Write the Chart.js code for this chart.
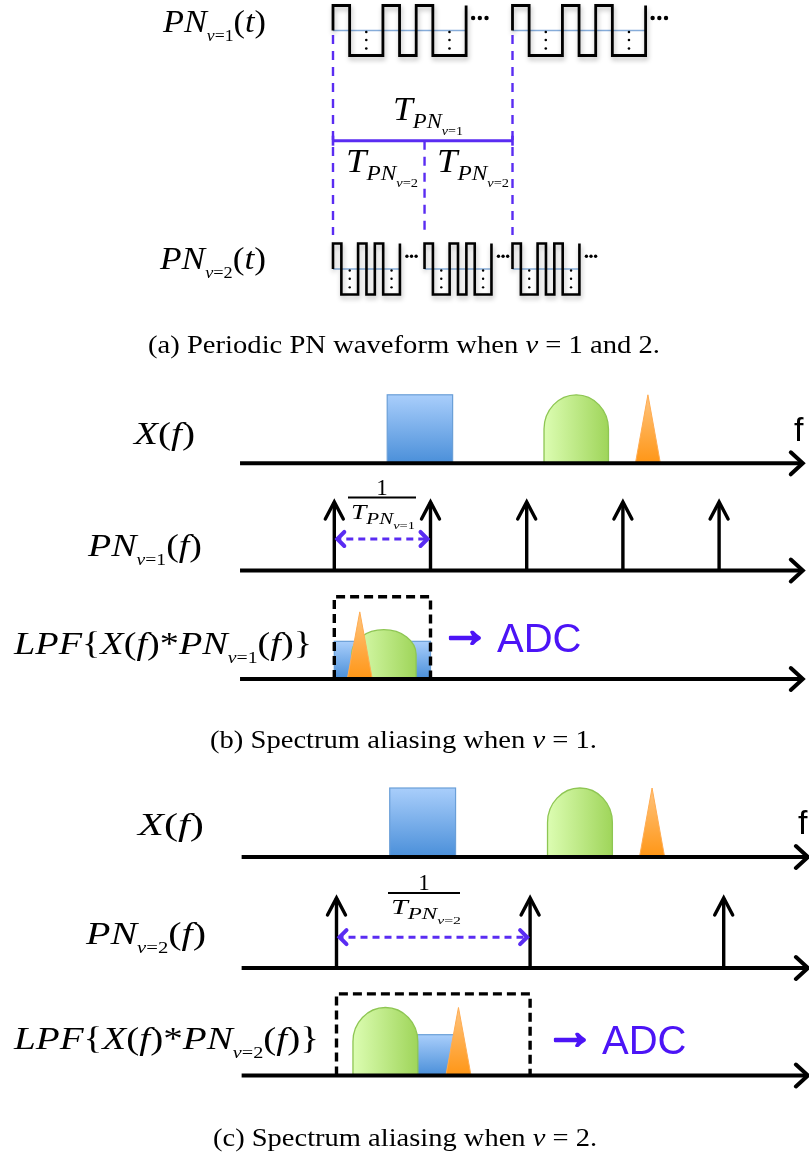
<!DOCTYPE html>
<html>
<head>
<meta charset="utf-8">
<script src="https://cdn.jsdelivr.net/npm/chart.js@4.4.1/dist/chart.umd.min.js"></script>
<style>
  html, body { margin: 0; padding: 0; background: #ffffff; }
  canvas { display: block; }
</style>
</head>
<body>
<canvas id="fig" width="809" height="1157"></canvas>
<script>
// ---------------- values ----------------
// chip pattern drawn for one PN period (+1 high, -1 low)
const pnChips = [1, -1, -1, 1, -1, 1, -1, -1];
// start of each drawn period, in units of T_PN,v=1
const periodStartsV1 = [0, 1];
const periodStartsV2 = [0, 0.51, 1];
// chip length, in units of T_PN,v=1
const chipLenV1 = 0.0927;
const chipLenV2 = 0.0466;
// period boundaries marked by dashed guides
const periodMarksV1 = [0, 1];
const periodMarksV2 = [0.51];

// input spectrum X(f): [start, end, height], frequency in units of 1/T_PN,v=1
const bandFlat = [0.55, 1.23, 1];
const bandRound = [2.18, 2.85, 1];
const bandTone = [3.13, 3.39, 1];
// PN spectral lines
const pnLinesV1 = [0, 1, 2, 3, 4];
const pnLinesV2 = [0, 2, 4];
// low-pass output for v = 1
const lpfPassV1 = [0, 1, 1.2];
const lpfFlatV1 = [0, 1, 0.55];
const lpfRoundV1 = [0.18, 0.85, 0.72];
const lpfToneV1 = [0.135, 0.395, 0.98];
// low-pass output for v = 2
const lpfPassV2 = [0, 2, 1.2];
const lpfFlatV2 = [0.55, 1.22, 0.6];
const lpfRoundV2 = [0.17, 0.84, 1];
const lpfToneV2 = [1.13, 1.39, 1];
// frequency extent of the drawn axes
const freqAxisSpan = [-0.98, 4.87];

// ---------------- layout ----------------
const W = 809, H = 1157;
const layout = {
  time:  { origin: 333, unit: 179.5 },
  freqB: { origin: 334.3, unit: 96.2 },
  freqC: { origin: 336.5, unit: 96.8 },
  rows: {
    yWave1: { base: 30.5, unit: 25 },
    yWave2: { base: 269, unit: 25.5 },
    yB1: { base: 463.3, unit: 68.5 },
    yB2: { base: 570.5, unit: 68.5 },
    yB3: { base: 679, unit: 68.5 },
    yC1: { base: 857, unit: 69 },
    yC2: { base: 968, unit: 70 },
    yC3: { base: 1075.5, unit: 68 }
  },
  guideTop: 35, guideBottom: 235, bracketY: 140.7,
  spanArrowB: 0.46, spanArrowC: 0.44
};

const BLACK = '#000000';
const VIOLET = '#5a2cf2';
const ADC_COLOR = '#4c14f6';
const SERIF = '"Liberation Serif", "Times New Roman", serif';
const SANS = '"Liberation Sans", Arial, sans-serif';

function hAxis(o) {
  return { type: 'linear', axis: 'x', position: 'bottom', display: false, bounds: 'data',
           min: -o.origin / o.unit, max: (W - o.origin) / o.unit };
}
function vAxis(r) {
  const max = r.base / r.unit;
  return { type: 'linear', axis: 'y', position: 'left', display: false, bounds: 'data',
           min: max - H / r.unit, max: max };
}
const scales = {
  x: { type: 'linear', display: false },
  y: { type: 'linear', display: false },
  xTime: hAxis(layout.time),
  xFreqB: hAxis(layout.freqB),
  xFreqC: hAxis(layout.freqC),
  yPage: { type: 'linear', axis: 'y', position: 'left', display: false, bounds: 'data', min: 0, max: H, reverse: true }
};
Object.keys(layout.rows).forEach(k => { scales[k] = vAxis(layout.rows[k]); });

// ---------------- datasets ----------------
const datasets = [];
function addLine(points, xAxisID, yAxisID, opts) {
  datasets.push(Object.assign({
    data: points, xAxisID, yAxisID,
    borderColor: BLACK, borderWidth: 3, pointRadius: 0, pointHoverRadius: 0,
    fill: false, tension: 0, showLine: true, spanGaps: false,
    borderCapStyle: 'butt', borderJoinStyle: 'miter'
  }, opts || {}));
}
function chipPath(start, chipLen) {
  const pts = [{ x: start, y: 0 }];
  pnChips.forEach((lvl, i) => {
    pts.push({ x: start + i * chipLen, y: lvl });
    pts.push({ x: start + (i + 1) * chipLen, y: lvl });
  });
  pts.push({ x: start + pnChips.length * chipLen, y: 1 });
  return pts;
}
function addWave(starts, chipLen, yAxisID, width) {
  starts.forEach(s => {
    addLine(chipPath(s, chipLen), 'xTime', yAxisID, { borderWidth: width, shadow: true });
    addLine([{ x: s, y: 0 }, { x: s + pnChips.length * chipLen, y: 0 }], 'xTime', yAxisID,
            { borderColor: '#86acd9', borderWidth: 1.3 });
  });
}
addWave(periodStartsV1, chipLenV1, 'yWave1', 2.8);
addWave(periodStartsV2, chipLenV2, 'yWave2', 2.6);

// dashed period guides and the period bracket
periodMarksV1.forEach(t => addLine([{ x: t, y: layout.guideTop }, { x: t, y: layout.guideBottom }],
  'xTime', 'yPage', { borderColor: VIOLET, borderWidth: 2.4, borderDash: [9, 7] }));
periodMarksV2.forEach(t => addLine([{ x: t, y: layout.bracketY }, { x: t, y: layout.guideBottom }],
  'xTime', 'yPage', { borderColor: VIOLET, borderWidth: 2.4, borderDash: [9, 7] }));
addLine([{ x: periodMarksV1[0], y: layout.bracketY }, { x: periodMarksV1[1], y: layout.bracketY }],
  'xTime', 'yPage', { borderColor: VIOLET, borderWidth: 3 });

// frequency axes
[['xFreqB', 'yB1'], ['xFreqB', 'yB2'], ['xFreqB', 'yB3'],
 ['xFreqC', 'yC1'], ['xFreqC', 'yC2'], ['xFreqC', 'yC3']].forEach(([xa, ya]) =>
  addLine([{ x: freqAxisSpan[0], y: 0 }, { x: freqAxisSpan[1], y: 0 }], xa, ya, { borderWidth: 4 }));

// PN spectral lines
function linePoints(lines) {
  const pts = [];
  lines.forEach(f => { pts.push({ x: f, y: 0 }, { x: f, y: 1 }, { x: f, y: null }); });
  return pts;
}
addLine(linePoints(pnLinesV1), 'xFreqB', 'yB2', { borderWidth: 3.4 });
addLine(linePoints(pnLinesV2), 'xFreqC', 'yC2', { borderWidth: 3.4 });

// line spacing markers
addLine([{ x: pnLinesV1[0], y: layout.spanArrowB }, { x: pnLinesV1[1], y: layout.spanArrowB }],
  'xFreqB', 'yB2', { borderColor: VIOLET, borderWidth: 3, borderDash: [7, 5] });
addLine([{ x: pnLinesV2[0], y: layout.spanArrowC }, { x: pnLinesV2[1], y: layout.spanArrowC }],
  'xFreqC', 'yC2', { borderColor: VIOLET, borderWidth: 3, borderDash: [7, 5] });

// low-pass windows
function passBox(p) {
  return [{ x: p[0], y: 0 }, { x: p[0], y: p[2] }, { x: p[1], y: p[2] }, { x: p[1], y: 0 }];
}
addLine(passBox(lpfPassV1), 'xFreqB', 'yB3', { borderWidth: 3.4, borderDash: [9, 5] });
addLine(passBox(lpfPassV2), 'xFreqC', 'yC3', { borderWidth: 3.4, borderDash: [9, 5] });

// ---------------- drawing helpers ----------------
function P(chart, axis, v) { return chart.scales[axis].getPixelForValue(v); }

function drawFlat(ctx, chart, xa, ya, b) {
  const x0 = P(chart, xa, b[0]), x1 = P(chart, xa, b[1]);
  const y0 = P(chart, ya, 0), y1 = P(chart, ya, b[2]);
  const g = ctx.createLinearGradient(0, y1, 0, y0);
  g.addColorStop(0, '#a9cefb'); g.addColorStop(1, '#4a8fd9');
  ctx.fillStyle = g;
  ctx.fillRect(x0, y1, x1 - x0, y0 - y1);
  ctx.strokeStyle = '#6a9fd8'; ctx.lineWidth = 1.2;
  ctx.strokeRect(x0, y1, x1 - x0, y0 - y1);
}
function drawRound(ctx, chart, xa, ya, b) {
  const x0 = P(chart, xa, b[0]), x1 = P(chart, xa, b[1]);
  const y0 = P(chart, ya, 0), yTop = P(chart, ya, b[2]), yS = P(chart, ya, b[2] * 0.5);
  const cx = (x0 + x1) / 2, rx = (x1 - x0) / 2, ry = yS - yTop;
  ctx.beginPath();
  ctx.moveTo(x0, y0);
  ctx.lineTo(x0, yS);
  ctx.ellipse(cx, yS, rx, ry, 0, Math.PI, 2 * Math.PI);
  ctx.lineTo(x1, y0);
  ctx.closePath();
  const g = ctx.createLinearGradient(x0, 0, x1, 0);
  g.addColorStop(0, '#dcfdb2'); g.addColorStop(1, '#9fd55a');
  ctx.fillStyle = g; ctx.fill();
  ctx.strokeStyle = '#8ec653'; ctx.lineWidth = 1.3; ctx.stroke();
}
function drawTone(ctx, chart, xa, ya, b) {
  const x0 = P(chart, xa, b[0]), x1 = P(chart, xa, b[1]);
  const y0 = P(chart, ya, 0), yTop = P(chart, ya, b[2]);
  ctx.beginPath();
  ctx.moveTo(x0, y0); ctx.lineTo((x0 + x1) / 2, yTop); ctx.lineTo(x1, y0); ctx.closePath();
  const g = ctx.createLinearGradient(0, yTop, 0, y0);
  g.addColorStop(0, '#ffc47e'); g.addColorStop(1, '#ff9616');
  ctx.fillStyle = g; ctx.fill();
  ctx.strokeStyle = '#ffac52'; ctx.lineWidth = 1; ctx.stroke();
}
function chevron(ctx, x, y, dir, len, half, width, color) {
  ctx.save();
  ctx.translate(x, y); ctx.rotate(dir);
  ctx.beginPath();
  ctx.moveTo(-len, -half); ctx.lineTo(0, 0); ctx.lineTo(-len, half);
  ctx.strokeStyle = color; ctx.lineWidth = width;
  ctx.lineJoin = 'miter'; ctx.lineCap = 'round';
  ctx.stroke();
  ctx.restore();
}
function dot(ctx, x, y, r) { ctx.beginPath(); ctx.arc(x, y, r, 0, 2 * Math.PI); ctx.fill(); }

// text runs: {t, s, i, dy}; an optional width stretches the run set horizontally
const R = (t, s, dy) => ({ t, s, i: false, dy: dy || 0 });
const I = (t, s, dy) => ({ t, s, i: true, dy: dy || 0 });
function runFont(r) { return (r.i ? 'italic ' : '') + r.s + 'px ' + SERIF; }
function drawRuns(ctx, x, y, runs, align, width) {
  let w = 0;
  runs.forEach(r => { ctx.font = runFont(r); r.w = ctx.measureText(r.t).width; w += r.w; });
  const sx = width ? width / w : 1;
  const total = w * sx;
  const x0 = align === 'center' ? x - total / 2 : (align === 'right' ? x - total : x);
  ctx.save();
  ctx.translate(x0, y);
  ctx.scale(sx, 1);
  let cx = 0;
  runs.forEach(r => { ctx.font = runFont(r); ctx.fillText(r.t, cx, r.dy); cx += r.w; });
  ctx.restore();
}
const BIG = 31, SMALL = 16, SUBDY = 9;
function pnRuns(v) { return [I('PN', BIG), I('v', SMALL, SUBDY), R('=' + v, SMALL, SUBDY)]; }
function callRuns(arg) { return [R('(', BIG), I(arg, BIG), R(')', BIG)]; }
function periodRuns(v) { return [I('T', 33), I('PN', 21, 8), I('v', 13, 15), R('=' + v, 13, 15)]; }
function lpfRuns(v) {
  return [I('LPF', BIG), R('{', BIG), I('X', BIG), ...callRuns('f'), R('*', BIG),
          ...pnRuns(v), ...callRuns('f'), R('}', BIG)];
}

const diagramPlugin = {
  id: 'diagram',
  beforeDatasetsDraw(chart) {
    const ctx = chart.ctx;
    ctx.save();
    [['xFreqB', 'yB1'], ['xFreqC', 'yC1']].forEach(([xa, ya]) => {
      drawFlat(ctx, chart, xa, ya, bandFlat);
      drawRound(ctx, chart, xa, ya, bandRound);
      drawTone(ctx, chart, xa, ya, bandTone);
    });
    drawFlat(ctx, chart, 'xFreqB', 'yB3', lpfFlatV1);
    drawRound(ctx, chart, 'xFreqB', 'yB3', lpfRoundV1);
    drawTone(ctx, chart, 'xFreqB', 'yB3', lpfToneV1);
    drawFlat(ctx, chart, 'xFreqC', 'yC3', lpfFlatV2);
    drawRound(ctx, chart, 'xFreqC', 'yC3', lpfRoundV2);
    drawTone(ctx, chart, 'xFreqC', 'yC3', lpfToneV2);
    ctx.restore();
  },
  beforeDatasetDraw(chart, args) {
    const ds = chart.data.datasets[args.index];
    if (ds.shadow) {
      const ctx = chart.ctx;
      ctx.save();
      ctx.shadowColor = 'rgba(0,0,0,0.28)';
      ctx.shadowBlur = 5; ctx.shadowOffsetX = 1; ctx.shadowOffsetY = 3;
    }
  },
  afterDatasetDraw(chart, args) {
    const ds = chart.data.datasets[args.index];
    if (ds.shadow) chart.ctx.restore();
  },
  afterDatasetsDraw(chart) {
    const ctx = chart.ctx;
    ctx.save();
    const UP = -Math.PI / 2, RIGHT = 0, LEFT = Math.PI;

    // axis arrowheads
    [['xFreqB', 'yB1'], ['xFreqB', 'yB2'], ['xFreqB', 'yB3'],
     ['xFreqC', 'yC1'], ['xFreqC', 'yC2'], ['xFreqC', 'yC3']].forEach(([xa, ya]) => {
      chevron(ctx, P(chart, xa, freqAxisSpan[1]), P(chart, ya, 0), RIGHT, 12, 11, 4, BLACK);
    });
    // spectral line heads
    pnLinesV1.forEach(f => chevron(ctx, P(chart, 'xFreqB', f), P(chart, 'yB2', 1), UP, 17, 9, 3.4, BLACK));
    pnLinesV2.forEach(f => chevron(ctx, P(chart, 'xFreqC', f), P(chart, 'yC2', 1), UP, 17, 9, 3.4, BLACK));
    // spacing marker heads
    [['xFreqB', 'yB2', pnLinesV1, layout.spanArrowB], ['xFreqC', 'yC2', pnLinesV2, layout.spanArrowC]]
      .forEach(([xa, ya, lines, a]) => {
        const y = P(chart, ya, a);
        chevron(ctx, P(chart, xa, lines[0]) + 3, y, LEFT, 7, 7, 4, VIOLET);
        chevron(ctx, P(chart, xa, lines[1]) - 3, y, RIGHT, 7, 7, 4, VIOLET);
      });
    // bracket end caps
    ctx.strokeStyle = VIOLET; ctx.lineWidth = 2.6;
    periodMarksV1.forEach(t => {
      const x = P(chart, 'xTime', t), y = P(chart, 'yPage', layout.bracketY);
      ctx.beginPath(); ctx.moveTo(x, y - 5); ctx.lineTo(x, y + 5); ctx.stroke();
    });

    // ellipses on the waveforms
    ctx.fillStyle = BLACK;
    [[periodStartsV1, chipLenV1, 'yWave1', 2.2, 1.3, 6.7],
     [periodStartsV2, chipLenV2, 'yWave2', 1.7, 1.2, 4.6]].forEach(([starts, c, ya, rh, rv, gap]) => {
      starts.forEach(s => {
        [2, 7].forEach(k => {
          const x = P(chart, 'xTime', s + k * c);
          [-0.06, -0.38, -0.72].forEach(l => dot(ctx, x, P(chart, ya, l), rv));
        });
        const xe = P(chart, 'xTime', s + pnChips.length * c);
        const ye = P(chart, ya, 0.5);
        for (let j = 0; j < 3; j++) dot(ctx, xe + 7 + j * gap, ye, rh);
      });
    });

    // row labels
    ctx.fillStyle = BLACK;
    ctx.textBaseline = 'alphabetic';
    drawRuns(ctx, 163, 32, [...pnRuns('1'), ...callRuns('t')], 'left', 103);
    drawRuns(ctx, 160, 269, [...pnRuns('2'), ...callRuns('t')], 'left', 106);
    drawRuns(ctx, 393, 120, periodRuns('1'), 'left', 70);
    drawRuns(ctx, 346, 172, periodRuns('2'), 'left', 72);
    drawRuns(ctx, 437, 172, periodRuns('2'), 'left', 72);

    drawRuns(ctx, 134, 444, [I('X', BIG), ...callRuns('f')], 'left', 61);
    drawRuns(ctx, 88, 556, [...pnRuns('1'), ...callRuns('f')], 'left', 114);
    drawRuns(ctx, 14, 654, lpfRuns('1'), 'left', 298);
    drawRuns(ctx, 138, 835, [I('X', BIG), ...callRuns('f')], 'left', 66);
    drawRuns(ctx, 86, 944, [...pnRuns('2'), ...callRuns('f')], 'left', 120);
    drawRuns(ctx, 14, 1049, lpfRuns('2'), 'left', 305);

    // 1/T fractions
    ctx.lineWidth = 2; ctx.strokeStyle = BLACK;
    [[348, 416, 497.5, 64], [388, 460, 893, 70]].forEach(([a, b, y, tw], i) => {
      ctx.beginPath(); ctx.moveTo(a, y); ctx.lineTo(b, y); ctx.stroke();
      drawRuns(ctx, (a + b) / 2, y - 3, [R('1', 23)], 'center');
      drawRuns(ctx, a + 3, y + 21, [I('T', 21), I('PN', 16, 5), I('v', 11, 10), R('=' + (i + 1), 11, 10)],
               'left', tw);
    });

    // axis name
    ctx.font = '34px ' + SANS;
    ctx.fillText('f', 794, 441);
    ctx.fillText('f', 798, 834);

    // ADC hand-off
    ctx.fillStyle = ADC_COLOR; ctx.strokeStyle = ADC_COLOR; ctx.lineWidth = 2.4;
    ctx.lineJoin = 'round';
    [[448, 652], [553, 1054]].forEach(([x, y]) => {
      ctx.font = '50px ' + SANS;
      ctx.fillText('\u2192', x - 8, y - 6);
      ctx.strokeText('\u2192', x - 8, y - 6);
      ctx.font = '40px ' + SANS;
      ctx.fillText('ADC', x + 49, y);
    });

    // captions
    ctx.fillStyle = BLACK;
    drawRuns(ctx, 404, 353, [R('(a) Periodic PN waveform when ', 25), I('v', 25), R(' = 1 and 2.', 25)], 'center', 512);
    drawRuns(ctx, 403.5, 748, [R('(b) Spectrum aliasing when ', 25), I('v', 25), R(' = 1.', 25)], 'center', 387);
    drawRuns(ctx, 405, 1146, [R('(c) Spectrum aliasing when ', 25), I('v', 25), R(' = 2.', 25)], 'center', 384);
    ctx.restore();
  }
};

new Chart(document.getElementById('fig'), {
  type: 'line',
  data: { datasets },
  options: {
    responsive: false,
    animation: false,
    devicePixelRatio: 1,
    events: [],
    layout: { padding: 0 },
    plugins: { legend: { display: false }, tooltip: { enabled: false }, title: { display: false } },
    scales
  },
  plugins: [diagramPlugin]
});
</script>
</body>
</html>
